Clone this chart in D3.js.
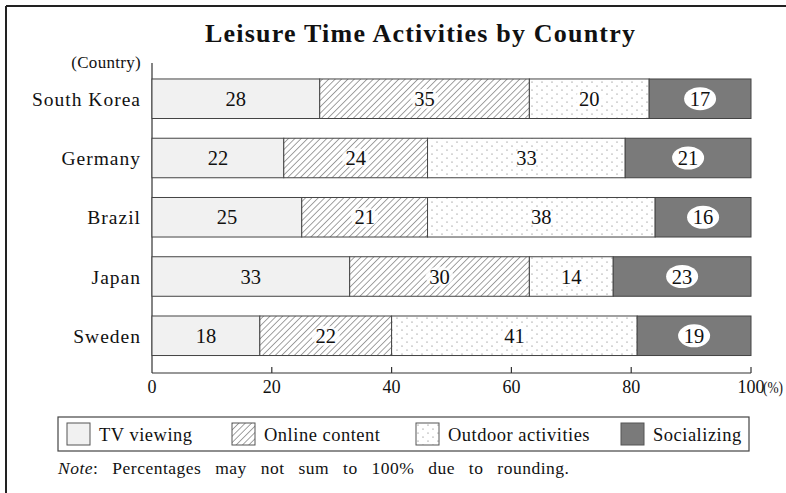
<!DOCTYPE html>
<html>
<head>
<meta charset="utf-8">
<script src="https://cdn.jsdelivr.net/npm/d3@7"></script>
<style>
  html, body { margin: 0; padding: 0; background: #fff; }
  svg { display: block; }
  text { font-family: "Liberation Serif", "DejaVu Serif", serif; fill: #111; }
</style>
</head>
<body>
<svg id="chart" width="786" height="493"></svg>
<script>
const title = "Leisure Time Activities by Country";
const countries = ["South Korea", "Germany", "Brazil", "Japan", "Sweden"];
const activities = ["TV viewing", "Online content", "Outdoor activities", "Socializing"];
const tvViewing = [28, 22, 25, 33, 18];
const onlineContent = [35, 24, 21, 30, 22];
const outdoorActivities = [20, 33, 38, 14, 41];
const socializing = [17, 21, 16, 23, 19];
const xTicks = [0, 20, 40, 60, 80, 100];
const noteText = "Percentages may not sum to 100% due to rounding.";

const series = [tvViewing, onlineContent, outdoorActivities, socializing];
const rows = countries.map((c, i) => {
  const r = { country: c };
  activities.forEach((a, j) => r[a] = series[j][i]);
  return r;
});
const stacked = d3.stack().keys(activities)(rows);

const svg = d3.select("#chart");
const defs = svg.append("defs");

const hatch = defs.append("pattern").attr("id", "hatch")
  .attr("patternUnits", "userSpaceOnUse").attr("width", 4.5).attr("height", 4.5)
  .attr("patternTransform", "rotate(45)");
hatch.append("rect").attr("width", 4.5).attr("height", 4.5).attr("fill", "#fff");
hatch.append("line").attr("x1", 0).attr("y1", 0).attr("x2", 0).attr("y2", 4.5)
  .attr("stroke", "#444").attr("stroke-width", 1);

const dots = defs.append("pattern").attr("id", "dots")
  .attr("patternUnits", "userSpaceOnUse").attr("width", 10).attr("height", 8);
dots.append("rect").attr("width", 10).attr("height", 8).attr("fill", "#fff");
dots.append("circle").attr("cx", 2).attr("cy", 2).attr("r", 0.6).attr("fill", "#666");
dots.append("circle").attr("cx", 7).attr("cy", 6).attr("r", 0.6).attr("fill", "#666");

const fills = {
  "TV viewing": "#f1f1f1",
  "Online content": "url(#hatch)",
  "Outdoor activities": "url(#dots)",
  "Socializing": "#7a7a7a"
};

// frame
svg.append("line").attr("x1", 6).attr("y1", 6).attr("x2", 786).attr("y2", 6)
  .attr("stroke", "#222").attr("stroke-width", 2);
svg.append("line").attr("x1", 6).attr("y1", 6).attr("x2", 6).attr("y2", 493)
  .attr("stroke", "#222").attr("stroke-width", 2);

// title
svg.append("text").attr("x", 420).attr("y", 42).attr("text-anchor", "middle")
  .attr("font-size", 26).attr("font-weight", "bold")
  .attr("textLength", 430).attr("lengthAdjust", "spacing")
  .text(title);

const x = d3.scaleLinear().domain([0, 100]).range([152, 751]);
const y = d3.scaleBand().domain(countries).range([69.1, 365.4])
  .paddingInner(0.333).paddingOuter(0.1667);

svg.append("line").attr("x1", x(0)).attr("x2", x(0)).attr("y1", 63).attr("y2", 373)
  .attr("stroke", "#333").attr("stroke-width", 1.2);

svg.append("text").attr("x", 141).attr("y", 68).attr("text-anchor", "end")
  .attr("font-size", 17).attr("letter-spacing", 0.3).text("(Country)");

svg.append("g").selectAll("text").data(countries).join("text")
  .attr("x", 141).attr("y", d => y(d) + y.bandwidth() / 2 + 7)
  .attr("text-anchor", "end").attr("font-size", 19.5).attr("letter-spacing", 1)
  .text(d => d);

const layer = svg.append("g").selectAll("g").data(stacked).join("g");
layer.selectAll("rect").data(d => d.map(v => ({ key: d.key, v }))).join("rect")
  .attr("x", d => x(d.v[0]))
  .attr("y", d => y(d.v.data.country))
  .attr("width", d => x(d.v[1]) - x(d.v[0]))
  .attr("height", y.bandwidth())
  .attr("fill", d => fills[d.key])
  .attr("stroke", "#444").attr("stroke-width", 1);

const lab = svg.append("g").selectAll("g")
  .data(stacked.flatMap(s => s.map(v => ({ key: s.key, v }))))
  .join("g")
  .attr("transform", d => `translate(${x((d.v[0] + d.v[1]) / 2)},${y(d.v.data.country) + y.bandwidth() / 2})`);
lab.filter(d => d.key !== "TV viewing").append("ellipse")
  .attr("rx", d => d.key === "Socializing" ? 16 : 14)
  .attr("ry", d => d.key === "Socializing" ? 11.5 : 10)
  .attr("fill", "#fff")
  .attr("opacity", d => d.key === "Socializing" ? 1 : 0.85);
lab.append("text").attr("text-anchor", "middle").attr("y", 7)
  .attr("font-size", 20.5)
  .text(d => d.v[1] - d.v[0]);

const xg = svg.append("g").attr("transform", "translate(0,373)");
xg.append("line").attr("x1", x(0)).attr("x2", x(100)).attr("stroke", "#333").attr("stroke-width", 1.2);
xg.selectAll("line.tick").data(xTicks.slice(1)).join("line").attr("class", "tick")
  .attr("x1", d => x(d)).attr("x2", d => x(d)).attr("y1", 0).attr("y2", -6)
  .attr("stroke", "#333").attr("stroke-width", 1.2);
xg.selectAll("text").data(xTicks).join("text")
  .attr("x", d => x(d)).attr("y", 20).attr("text-anchor", "middle")
  .attr("font-size", 18).text(d => d);
xg.append("text").attr("x", x(100) + 12).attr("y", 20).attr("text-anchor", "start")
  .attr("font-size", 16).attr("textLength", 20).attr("lengthAdjust", "spacingAndGlyphs")
  .text("(%)");

const lg = svg.append("g");
lg.append("rect").attr("x", 58).attr("y", 417).attr("width", 691).attr("height", 34)
  .attr("fill", "#fff").attr("stroke", "#444").attr("stroke-width", 1.2);
const legX = [67, 232, 416, 621];
const items = lg.selectAll("g").data(activities).join("g")
  .attr("transform", (d, i) => `translate(${legX[i]},423)`);
items.append("rect").attr("width", 23).attr("height", 22)
  .attr("fill", d => fills[d]).attr("stroke", "#555").attr("stroke-width", 1);
items.append("text").attr("x", 32).attr("y", 17.5).attr("font-size", 18.5)
  .attr("letter-spacing", 0.5).text(d => d);

const note = svg.append("text").attr("x", 58).attr("y", 474).attr("font-size", 17.5)
  .attr("word-spacing", 9).attr("letter-spacing", 0.5);
note.append("tspan").attr("font-style", "italic").text("Note");
note.append("tspan").text(": " + noteText);
</script>
</body>
</html>
